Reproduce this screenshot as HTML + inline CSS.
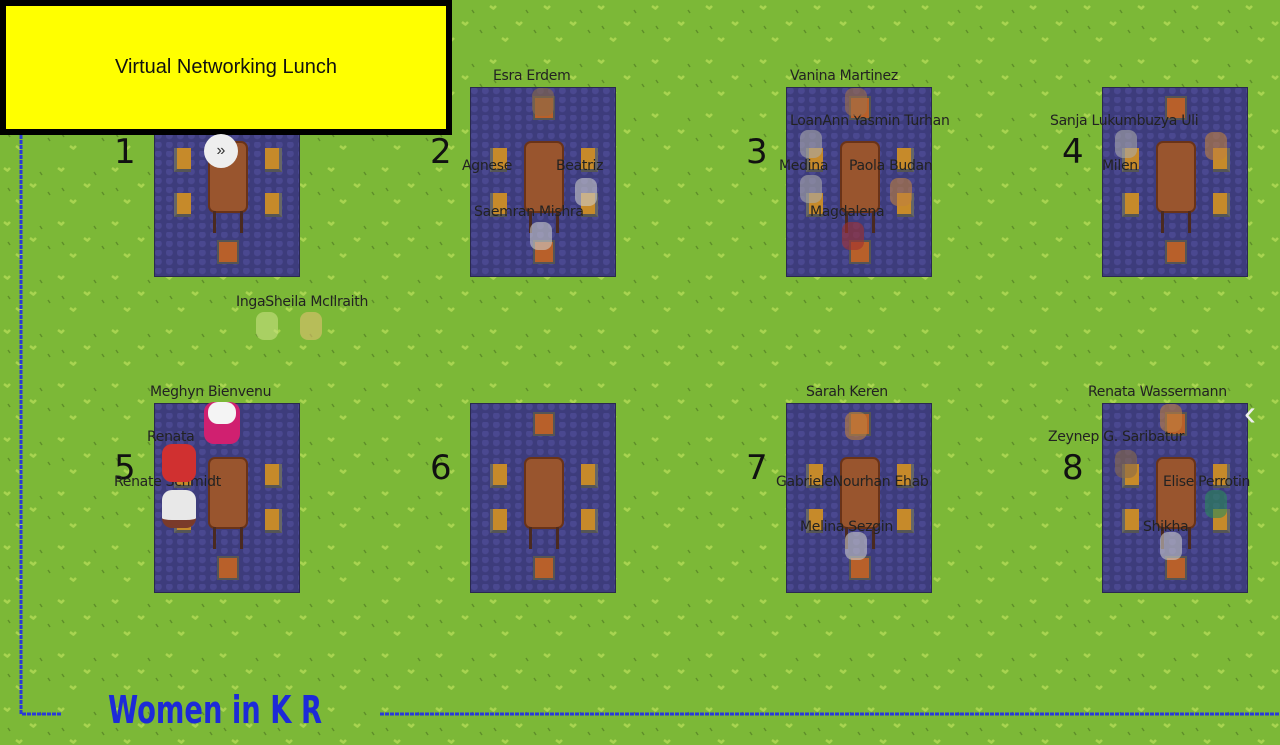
<!DOCTYPE html>
<html><head><meta charset="utf-8"><style>
html,body{margin:0;padding:0;width:1280px;height:745px;overflow:hidden;background:#7cb837;font-family:"Liberation Sans",sans-serif}
.abs{position:absolute}
.t{position:absolute;width:146px;height:190px;background:#3d3c7c;border:1px solid #2a2950;box-sizing:border-box;
background-image:radial-gradient(circle at 30% 30%,#4a4890 0 3px,transparent 4px);background-size:11px 9px}
.tab{position:absolute;left:53px;top:53px;width:40px;height:72px;background:#99552e;border-radius:7px;border:2px solid #6a3318;box-sizing:border-box}
.leg{position:absolute;top:123px;width:3px;height:22px;background:#4a2a20}
.ch{position:absolute;width:17px;height:24px;background:#c68a2a;border-left:3px solid #666;border-bottom:3px solid #555;box-sizing:border-box}
.cht{position:absolute;left:62px;width:22px;height:24px;background:#b8602a;border:2px solid #555;box-sizing:border-box}
.num{position:absolute;font-size:34px;color:#111;font-family:"DejaVu Sans",sans-serif}
.nm{position:absolute;font-size:14px;color:#222;white-space:nowrap;font-family:"DejaVu Sans",sans-serif;letter-spacing:-0.3px}
.av{position:absolute;width:22px;height:28px;border-radius:8px;opacity:.6}
</style></head><body>
<svg class="abs" style="left:0;top:0" width="1280" height="745">
<defs><pattern id="g" width="54" height="54" patternUnits="userSpaceOnUse">
<path d="M4 6l4 3M10 6l-3 3M30 22l4 3M36 22l-3 3M16 38l4 3M22 38l-3 3" stroke="#a8d450" stroke-width="2.5"/>
<path d="M40 10l2 3M48 30l2 3M8 26l2 3" stroke="#5f8f2a" stroke-width="1.5"/>
</pattern></defs>
<rect width="1280" height="745" fill="url(#g)"/>
<path d="M21 130V714H62M380 714H1280" stroke="#2a3ad8" stroke-width="3" fill="none" stroke-dasharray="4 1"/>
</svg>
<div id="m"></div>
<div class="abs" style="left:0;top:0;width:452px;height:135px;background:#ffff00;border:6px solid #000;box-sizing:border-box"></div>
<div class="abs" style="left:0;top:56px;width:452px;text-align:center;font-size:20px;color:#111">Virtual Networking Lunch</div>
<div class="abs" style="left:204px;top:134px;width:34px;height:34px;border-radius:50%;background:#eee;text-align:center;line-height:34px;font-size:16px;color:#333">»</div>
<div class="abs" style="left:108px;top:688px;font-size:38px;font-weight:bold;color:#1d2ad8;font-family:'DejaVu Sans Condensed','DejaVu Sans',sans-serif;transform:scaleX(0.8);transform-origin:left">Women in K R</div>
<div class="abs" style="left:1244px;top:392px;font-size:36px;color:#eee">‹</div>
<script>
var m=document.getElementById('m'),h='';
var X=[154,470,786,1102],Y=[87,403];
for(var r=0;r<2;r++)for(var c=0;c<4;c++){
var x=X[c],y=Y[r],n=r*4+c+1;
h+='<div class="t" style="left:'+x+'px;top:'+y+'px">';
if(n!=1&&n!=5)h+='<div class="cht" style="top:8px"></div>';
h+='<div class="tab"></div><div class="leg" style="left:58px"></div><div class="leg" style="left:85px"></div>';
h+='<div class="ch" style="left:19px;top:60px"></div><div class="ch" style="left:19px;top:105px"></div><div class="ch" style="left:110px;top:60px;transform:scaleX(-1)"></div><div class="ch" style="left:110px;top:105px;transform:scaleX(-1)"></div>';
h+='<div class="cht" style="top:152px"></div></div>';
h+='<div class="num" style="left:'+(x-40)+'px;top:'+(y+45)+'px">'+n+'</div>';}
var N=[[493,68,'Esra Erdem'],[790,68,'Vanina Martinez'],[790,113,'LoanAnn Yasmin Turhan'],[1050,113,'Sanja Lukumbuzya Uli'],[462,158,'Agnese'],[556,158,'Beatriz'],[779,158,'Medina'],[849,158,'Paola Budan'],[1102,158,'Milen'],[474,204,'Saemran Mishra'],[810,204,'Magdalena'],[236,294,'IngaSheila McIlraith'],[150,384,'Meghyn Bienvenu'],[806,384,'Sarah Keren'],[1088,384,'Renata Wassermann'],[147,429,'Renata'],[1048,429,'Zeynep G. Saribatur'],[114,474,'Renate Schmidt'],[776,474,'GabrieleNourhan Ehab'],[1163,474,'Elise Perrotin'],[800,519,'Melina Sezgin'],[1143,519,'Shikha']];
N.forEach(function(a){h+='<div class="nm" style="left:'+a[0]+'px;top:'+a[1]+'px">'+a[2]+'</div>'});
var A=[[532,88,'#8a6a4a'],[845,88,'#a0704a'],[800,130,'#aaa'],[1115,130,'#aaa'],[1205,132,'#c08040'],[800,175,'#aaa'],[575,178,'#ccc'],[890,178,'#c08040'],[842,222,'#a03030'],[530,222,'#ccc'],[256,312,'#c8e080'],[300,312,'#e0c070'],[845,412,'#c08040'],[1160,404,'#c08040'],[1115,450,'#8a6a4a'],[1205,490,'#2a8a5a'],[845,532,'#ccc'],[1160,532,'#ccc']];
A.forEach(function(a){h+='<div class="av" style="left:'+a[0]+'px;top:'+a[1]+'px;background:'+a[2]+'"></div>'});
h+='<div class="abs" style="left:204px;top:402px;width:36px;height:42px;border-radius:10px;background:#d02070"></div><div class="abs" style="left:208px;top:402px;width:28px;height:22px;border-radius:10px;background:#f4f4f4"></div>';
h+='<div class="abs" style="left:162px;top:444px;width:34px;height:38px;border-radius:10px;background:#d03030"></div>';
h+='<div class="abs" style="left:162px;top:490px;width:34px;height:38px;border-radius:10px;background:#e8e8e8;border-bottom:8px solid #7a3a2a;box-sizing:border-box"></div>';
m.innerHTML=h;
</script>
</body></html>
